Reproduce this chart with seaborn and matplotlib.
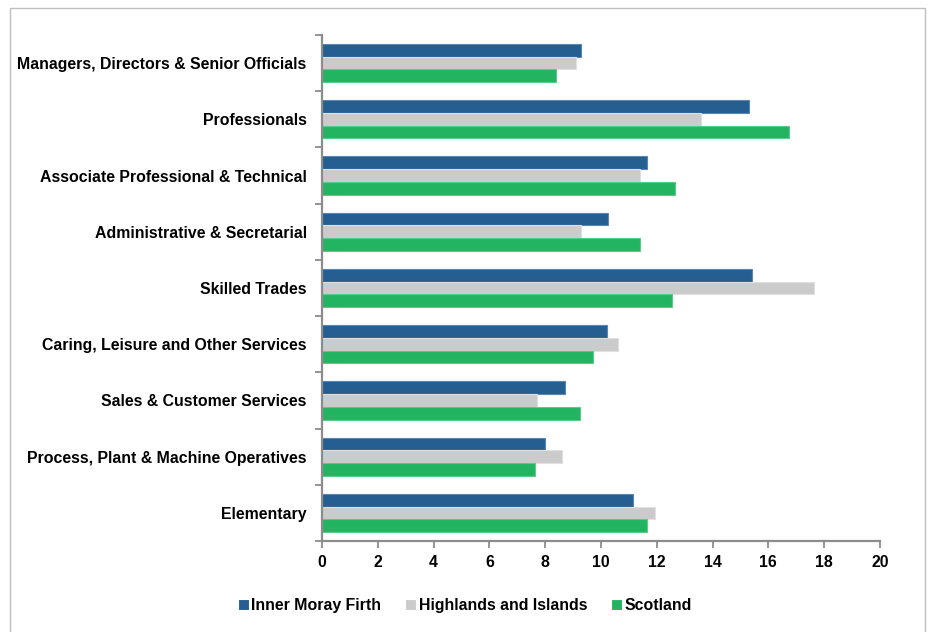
import numpy as np
import pandas as pd
import seaborn as sns
import matplotlib.pyplot as plt
from matplotlib.patches import Rectangle
from matplotlib.ticker import FixedLocator, NullFormatter

# occupation groups, top to bottom
occupations = [
    "Managers, Directors & Senior Officials",
    "Professionals",
    "Associate Professional & Technical",
    "Administrative & Secretarial",
    "Skilled Trades",
    "Caring, Leisure and Other Services",
    "Sales & Customer Services",
    "Process, Plant & Machine Operatives",
    "Elementary",
]
areas = ["Inner Moray Firth", "Highlands and Islands", "Scotland"]

# % share of employment
inner_moray_firth = [9.3, 15.3, 11.65, 10.25, 15.4, 10.2, 8.7, 8.0, 11.15]
highlands_islands = [9.1, 13.6, 11.4, 9.3, 17.65, 10.6, 7.7, 8.6, 11.95]
scotland = [8.4, 16.75, 12.65, 11.4, 12.55, 9.7, 9.25, 7.65, 11.65]

colors = ["#255E91", "#CBCBCB", "#23B461"]
edge_colors = ["#5A86B4", "#E0E0E0", "#5CCB8A"]

df = pd.DataFrame({
    "occupation": occupations * 3,
    "area": np.repeat(areas, len(occupations)),
    "value": inner_moray_firth + highlands_islands + scotland,
})

sns.set_style("white", {"text.color": "black", "xtick.color": "black", "ytick.color": "black"})
plt.rcParams["font.family"] = ["Liberation Sans", "DejaVu Sans"]

fig = plt.figure(figsize=(9.3, 6.32), dpi=100)
ax = fig.add_axes([0.3462, 0.144, 0.6, 0.8006])

sns.barplot(data=df, x="value", y="occupation", hue="area", order=occupations,
            hue_order=areas, palette=colors, saturation=1, orient="h", width=0.68,
            linewidth=0.8, ax=ax)

# lighter outline on each bar, per series
for cont, ec in zip(ax.containers, edge_colors):
    for p in cont:
        p.set_edgecolor(ec)

ax.set_xlim(0, 20)
ax.set_ylim(len(occupations) - 0.5, -0.5)
ax.set_xticks(np.arange(0, 21, 2))
ax.set_xlabel("")
ax.set_ylabel("")

# category ticks sit between groups, labels at the centres
ax.yaxis.set_major_locator(FixedLocator(np.arange(-0.5, len(occupations), 1)))
ax.yaxis.set_major_formatter(NullFormatter())
ax.yaxis.set_minor_locator(FixedLocator(np.arange(len(occupations))))
ax.set_yticklabels(occupations, minor=True)
ax.tick_params(axis="y", which="minor", left=True, length=0, pad=11, labelsize=11.4,
               labelcolor="black")
ax.tick_params(axis="y", which="major", left=True, length=5, width=1.3, color="#8C8C8C",
               direction="out")
ax.tick_params(axis="x", bottom=True, length=5, width=1.3, color="#8C8C8C", direction="out",
               labelsize=11.4, labelcolor="black", pad=5)
for lab in ax.get_yticklabels(minor=True) + ax.get_xticklabels():
    lab.set_fontweight("bold")

for side in ["top", "right"]:
    ax.spines[side].set_visible(False)
for side in ["left", "bottom"]:
    ax.spines[side].set_color("#8C8C8C")
    ax.spines[side].set_linewidth(1.6)

leg = ax.legend(loc="upper center", bbox_to_anchor=(0.256, -0.084), ncol=3, frameon=False,
                handlelength=0.7, handleheight=0.7, handletextpad=0.15, columnspacing=1.5,
                prop={"weight": "bold", "size": 11.4})
for t in leg.get_texts():
    t.set_color("black")

# outer frame of the chart
fig.patches.append(Rectangle((10 / 930, -0.02), 915 / 930, 1.02 - 8 / 632,
                             transform=fig.transFigure, fill=False,
                             edgecolor="#BFBFBF", linewidth=1.0))

fig.savefig("out.png", dpi=100)
